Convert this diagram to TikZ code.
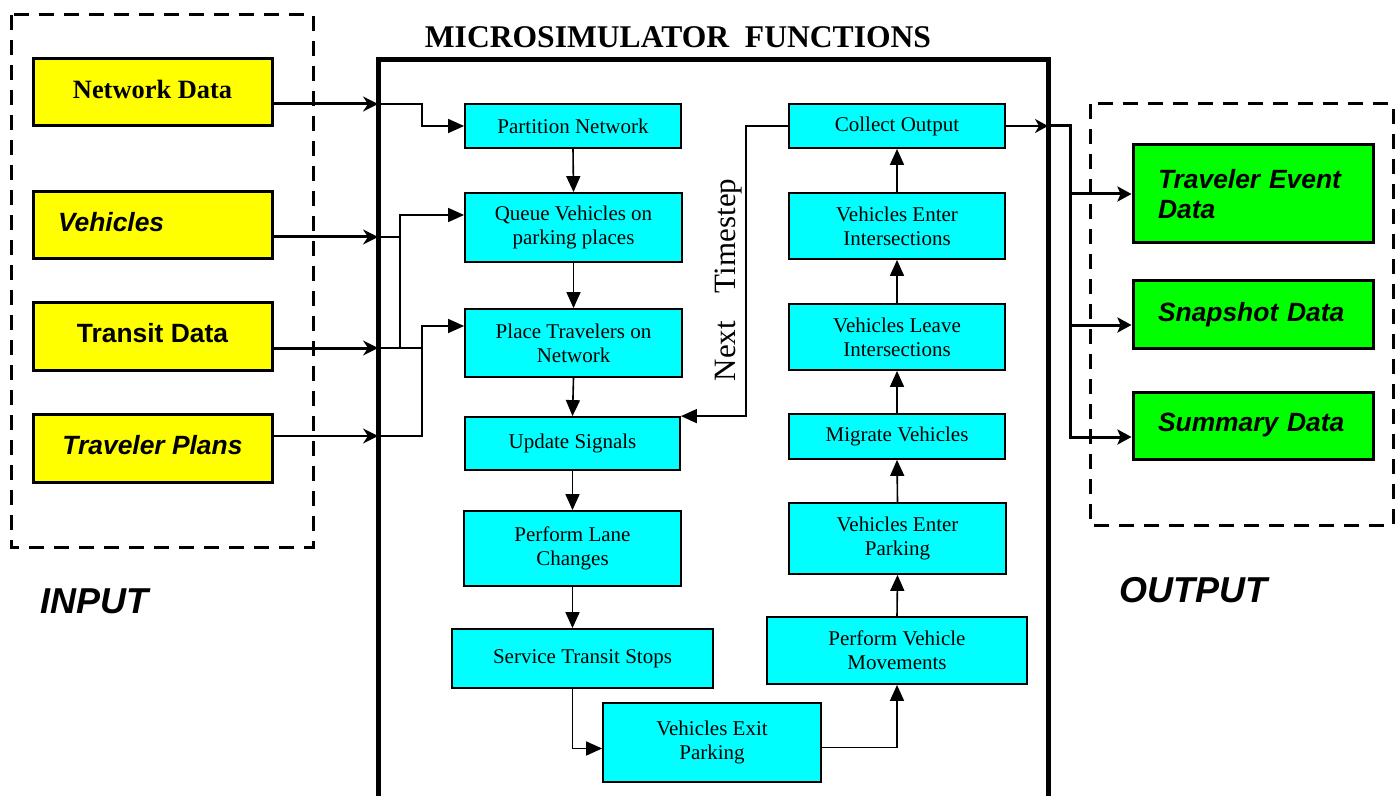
\documentclass[tikz,border=0pt]{standalone}
\usepackage{fontspec}
\setmainfont{Liberation Serif}
\setsansfont{Liberation Sans}
\usetikzlibrary{arrows.meta}
\definecolor{fnfill}{RGB}{0,255,255}
\definecolor{infill}{RGB}{255,255,0}
\definecolor{outfill}{RGB}{0,255,0}

\begin{document}
\begin{tikzpicture}[x=0.5pt, y=-0.5pt,
  inbox/.style={draw, line width=1.5pt, fill=infill, minimum width=119.5pt, minimum height=33.5pt, inner sep=0pt, font=\sffamily\bfseries\fontsize{13.2}{15}\selectfont},
  outbox/.style={draw, line width=1.5pt, fill=outfill, minimum width=120pt, minimum height=33.5pt, text width=95pt, inner xsep=12.5pt, inner ysep=0pt, align=left, font=\sffamily\bfseries\itshape\fontsize{13.2}{15}\selectfont},
  fn/.style={draw, line width=0.9pt, fill=fnfill, inner sep=0pt, align=center, font=\fontsize{10.5}{12}\selectfont},
  flow/.style={line width=0.8pt, -{Triangle[length=8pt,width=7pt]}},
  feed/.style={line width=1.5pt, -{Stealth[length=7.5pt,width=7.5pt,inset=2.5pt]}},
  outflow/.style={line width=1.5pt, -{Stealth[length=7pt,width=7.5pt,inset=1.5pt]}},
  frame/.style={line width=1.5pt, dash pattern=on 7.5pt off 5pt},
  biglabel/.style={font=\sffamily\bfseries\itshape\fontsize{18}{20}\selectfont}]
\useasboundingbox (0,0) rectangle (1395,796);

% input and output groups
\draw[frame] (11,15) rectangle (313,547);
\draw[frame] (1090,104) rectangle (1393,525);
\node[biglabel] (inlbl) at (94,601) {INPUT};
\node[biglabel] (outlbl) at (1193,590) {OUTPUT};

% microsimulator frame
\draw[line width=2.5pt] (378,820) -- (378,60) -- (1048,60) -- (1048,820);
\node[font=\bfseries\fontsize{15.8}{18}\selectfont] (title) at (678,37) {MICROSIMULATOR\ \ FUNCTIONS};
\coordinate (inNet) at (378,104);
\coordinate (inVeh) at (378,237);
\coordinate (inTrn) at (378,348);
\coordinate (inPln) at (378,436);
\coordinate (outC) at (1048,126);
\coordinate (bus) at (1070,126);

\node[inbox, font=\bfseries\fontsize{13.2}{15}\selectfont] (net) at (152.5,92.5) {Network Data\strut};
\node[inbox, text width=94.5pt, inner xsep=12.5pt, align=left, font=\sffamily\bfseries\itshape\fontsize{13.2}{15}\selectfont] (veh) at (152.5,225.5) {Vehicles\strut};
\node[inbox] (trn) at (152.5,336.5) {Transit Data\strut};
\node[inbox, minimum height=34pt, font=\sffamily\bfseries\itshape\fontsize{13.2}{15}\selectfont] (pln) at (152.5,448) {Traveler Plans\strut};

\node[outbox, minimum height=49pt] (tev) at (1253,194) {Traveler Event\\Data};
\node[outbox] (snap) at (1253,314.5) {Snapshot Data};
\node[outbox] (sum) at (1253,425.5) {Summary Data};

% functions, left column
\node[fn, minimum width=108pt, minimum height=22pt] (part) at (573,126) {Partition Network};
\node[fn, minimum width=108.5pt, minimum height=34.5pt] (queue) at (573.5,227.5) {Queue Vehicles on\\parking places};
\node[fn, minimum width=108.5pt, minimum height=34pt] (place) at (573.5,343) {Place Travelers on\\Network};
\node[fn, minimum width=107.5pt, minimum height=26.5pt] (upd) at (572.5,443.5) {Update Signals};
\node[fn, minimum width=108.5pt, minimum height=37.5pt] (lane) at (572.5,548.5) {Perform Lane\\Changes};
\node[fn, minimum width=130.5pt, minimum height=29.5pt] (svc) at (582.5,658.5) {Service Transit Stops};
\node[fn, minimum width=109pt, minimum height=39.5pt] (exitp) at (712,742.5) {Vehicles Exit\\Parking};
% functions, right column
\node[fn, minimum width=130pt, minimum height=33.5pt] (pvm) at (897,650.5) {Perform Vehicle\\Movements};
\node[fn, minimum width=108.5pt, minimum height=35.5pt] (vep) at (897.5,538.5) {Vehicles Enter\\Parking};
\node[fn, minimum width=108pt, minimum height=22.5pt] (mig) at (897,436.5) {Migrate Vehicles};
\node[fn, minimum width=108pt, minimum height=33pt] (vli) at (897,337) {Vehicles Leave\\Intersections};
\node[fn, minimum width=108pt, minimum height=33pt] (vei) at (897,226) {Vehicles Enter\\Intersections};
\node[fn, minimum width=108pt, minimum height=22pt] (coll) at (897,126) {Collect Output};

% inputs
\draw[feed] (net.east |- inNet) -- (inNet);
\draw[feed] (veh.east |- inVeh) -- (inVeh);
\draw[feed] (trn.east |- inTrn) -- (inTrn);
\draw[feed, line width=1pt] (pln.east |- inPln) -- (inPln);
\draw[flow] (inNet) -- (422,104) |- (part.west);
\draw[line width=0.8pt] (inVeh) -- (400,237);
\draw[line width=0.8pt] (inTrn) -- (422,348);
\draw[flow] (inTrn) -- (400,348) |- ([yshift=6.25pt]queue.west);
\draw[flow] (inPln) -- (422,436) |- ([yshift=8.5pt]place.west);

% processing order
\foreach \a/\b in {part/queue, queue/place, place/upd, upd/lane}
  \draw[flow] (\a.south) -- (\b.north);
\draw[flow] (lane.south) -- (lane.south |- svc.north);
\draw[flow] (svc.south -| lane.south) |- ([yshift=-3pt]exitp.west);
\draw[flow] ([yshift=-2.5pt]exitp.east) -| (pvm.south);
\foreach \a/\b in {pvm/vep, vep/mig, mig/vli, vli/vei, vei/coll}
  \draw[flow] (\a.north) -- (\b.south);

% loop back
\draw[flow] (coll.west) -- (746,126) |- (upd.north east);
\node[rotate=90, font=\fontsize{15.5}{18}\selectfont] (nts) at (729,280) {Next\hspace{14pt}Timestep};

% outputs
\draw[line width=0.8pt, -{Stealth[length=6.5pt,width=7pt,inset=2pt]}] (coll.east) -- (outC);
\draw[outflow] (outC) -- (bus) |- (tev.west);
\draw[outflow] (bus) |- ([yshift=-5.25pt]snap.west);
\draw[outflow] (bus) |- ([yshift=-5.75pt]sum.west);
\end{tikzpicture}
\end{document}
